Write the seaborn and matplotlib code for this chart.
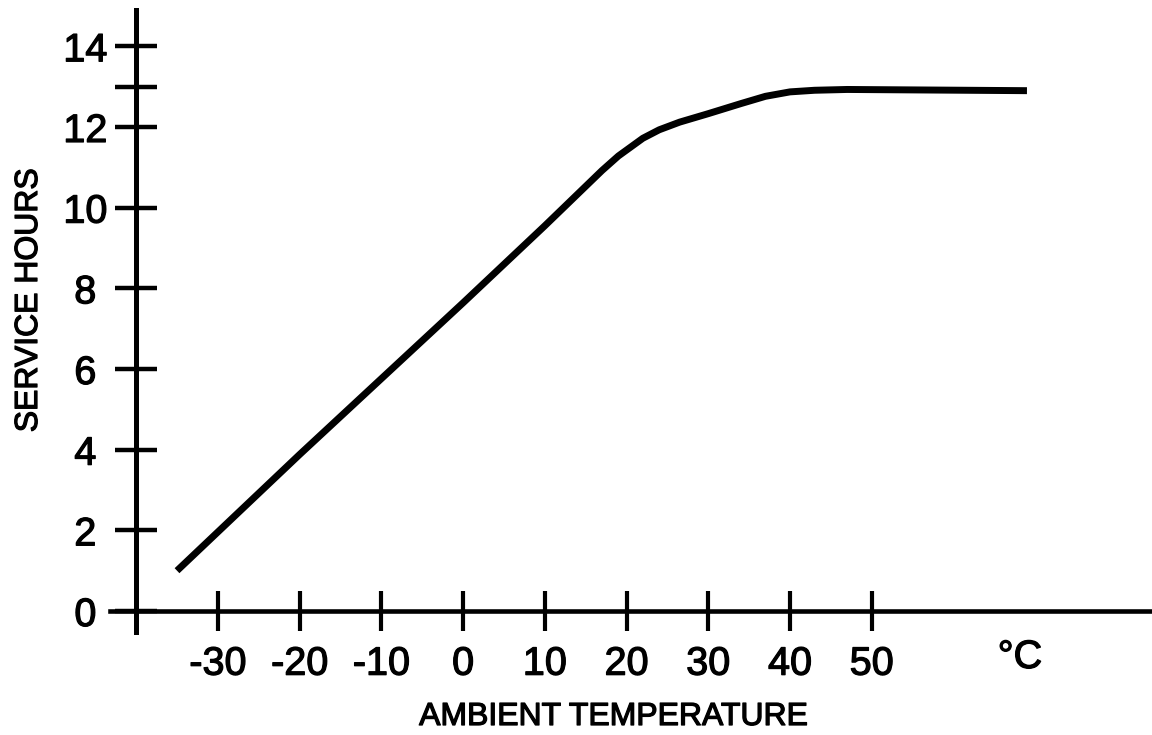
import matplotlib
matplotlib.use("Agg")
import matplotlib.pyplot as plt
import matplotlib.patheffects as pe
import seaborn as sns

# curve
temp_c = [-35, -20, 0, 10, 17, 19, 20.5, 22, 24, 26.5, 30, 34, 37, 40, 43, 47, 69]
service_hours = [1.0, 3.88, 7.64, 9.55, 10.92, 11.28, 11.5, 11.72, 11.93, 12.12,
                 12.33, 12.58, 12.76, 12.87, 12.91, 12.93, 12.9]

x_ticks = [-30, -20, -10, 0, 10, 20, 30, 40, 50]
x_tick_labels = ["-30", "-20", "-10", "0", "10", "20", "30", "40", "50"]
y_ticks = [0, 2, 4, 6, 8, 10, 12, 13, 14]
y_tick_labels = ["0", "2", "4", "6", "8", "10", "12", "", "14"]

sns.set_theme(style="white")
plt.rcParams["font.family"] = ["Liberation Sans", "DejaVu Sans"]

# slightly heavier glyphs, like the scanned print
heavy = [pe.withStroke(linewidth=0.9, foreground="black")]

fig = plt.figure(figsize=(11.52, 7.35), dpi=100)
ax = fig.add_axes([110 / 1152, 103 / 735, 1042 / 1152, 622 / 735])

sns.lineplot(x=temp_c, y=service_hours, ax=ax, color="black", linewidth=5,
             solid_capstyle="butt", solid_joinstyle="round", sort=False)

ax.set_xlim(-43.2, 84.3)
ax.set_ylim(-0.52, 14.9)

ax.spines["top"].set_visible(False)
ax.spines["right"].set_visible(False)
ax.spines["left"].set_position(("data", -40))
ax.spines["bottom"].set_position(("data", 0))
ax.spines["left"].set_linewidth(3.6)
ax.spines["bottom"].set_linewidth(3.3)
ax.spines["left"].set_color("black")
ax.spines["bottom"].set_color("black")

ax.set_xticks(x_ticks)
ax.set_xticklabels(x_tick_labels)
ax.set_yticks(y_ticks)
ax.set_yticklabels(y_tick_labels, ha="center")
ax.tick_params(axis="x", direction="inout", length=29.5, width=3, pad=9.5,
               labelsize=28.5, colors="black", bottom=True)
ax.tick_params(axis="y", direction="inout", length=30, width=3.2, pad=21.6,
               labelsize=28.5, colors="black", left=True)
for lab in ax.get_xticklabels() + ax.get_yticklabels():
    lab.set_path_effects(heavy)

ax.set_xlabel("")
ax.set_ylabel("")
fig.text(614 / 1152, 1 - 725 / 735, "AMBIENT TEMPERATURE", fontsize=23,
         ha="center", va="baseline", color="black", path_effects=heavy)
fig.text(37 / 1152, 1 - 300 / 735, "SERVICE HOURS", fontsize=23, rotation=90,
         rotation_mode="anchor", ha="center", va="baseline", color="black",
         path_effects=heavy)
fig.text(1020 / 1152, 1 - 668 / 735, "°C", fontsize=28.5, ha="center",
         va="baseline", color="black", path_effects=heavy)

fig.savefig("out.png", dpi=100)
plt.close(fig)
